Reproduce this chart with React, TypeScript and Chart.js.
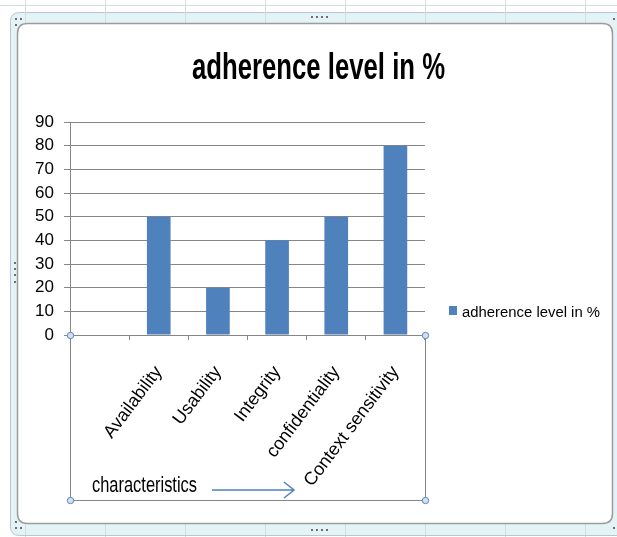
import React, { useEffect, useRef } from "react";
import { Chart, registerables } from "chart.js";

Chart.register(...registerables);

const chartTitle = "adherence level in %";
const seriesName = "adherence level in %";
const categories = ["", "Availability", "Usability", "Integrity", "confidentiality", "Context sensitivity"];
const values = [null, 50, 20, 40, 50, 80];
const yMin = 0;
const yMax = 90;
const yStep = 10;
const axisTitle = "characteristics";

const BAR = "#4F81BD";
const GRID = "#868686";
const NARROW = "'Liberation Sans Narrow', 'Liberation Sans', Arial, sans-serif";

function fitText(
  ctx: CanvasRenderingContext2D,
  text: string,
  x: number,
  baseline: number,
  width: number,
  ascent: number,
  font: string,
  color: string
) {
  ctx.save();
  ctx.font = font;
  const m = ctx.measureText(text);
  const sx = width / m.width;
  const sy = ascent / (m.actualBoundingBoxAscent || 1);
  ctx.translate(x, baseline);
  ctx.scale(sx, sy);
  ctx.fillStyle = color;
  ctx.textAlign = "left";
  ctx.textBaseline = "alphabetic";
  ctx.fillText(text, 0, 0);
  ctx.restore();
}

function roundRect(ctx: CanvasRenderingContext2D, x: number, y: number, w: number, h: number, r: number) {
  ctx.beginPath();
  ctx.moveTo(x + r, y);
  ctx.lineTo(x + w - r, y);
  ctx.quadraticCurveTo(x + w, y, x + w, y + r);
  ctx.lineTo(x + w, y + h - r);
  ctx.quadraticCurveTo(x + w, y + h, x + w - r, y + h);
  ctx.lineTo(x + r, y + h);
  ctx.quadraticCurveTo(x, y + h, x, y + h - r);
  ctx.lineTo(x, y + r);
  ctx.quadraticCurveTo(x, y, x + r, y);
  ctx.closePath();
}

function dots(ctx: CanvasRenderingContext2D, pts: number[][]) {
  ctx.fillStyle = "#6d6d6d";
  for (const [x, y] of pts) ctx.fillRect(x - 1, y - 1, 2, 2);
}

const decor = {
  id: "decor",
  beforeDraw(chart: any) {
    const ctx: CanvasRenderingContext2D = chart.ctx;
    const W = chart.width;
    const H = chart.height;
    ctx.save();
    ctx.fillStyle = "#ffffff";
    ctx.fillRect(0, 0, W, H);
    // spreadsheet grid
    ctx.strokeStyle = "#d4dbe8";
    ctx.lineWidth = 1;
    ctx.beginPath();
    ctx.moveTo(0, 5.5);
    ctx.lineTo(W, 5.5);
    for (let x = 25.5; x < W; x += 80) {
      ctx.moveTo(x, 0);
      ctx.lineTo(x, H);
    }
    ctx.stroke();
    // outer frame band
    roundRect(ctx, 10.5, 12.5, 640, 523, 9);
    ctx.fillStyle = "#e4f3f5";
    ctx.fill();
    ctx.strokeStyle = "#b7c6d6";
    ctx.stroke();
    ctx.strokeStyle = "#cfdde6";
    ctx.beginPath();
    for (let x = 25.5; x < W; x += 80) {
      ctx.moveTo(x, 12);
      ctx.lineTo(x, 23);
      ctx.moveTo(x, 524);
      ctx.lineTo(x, 535);
    }
    ctx.stroke();
    // inner white chart area
    roundRect(ctx, 17.5, 23.5, 595, 500, 10);
    ctx.fillStyle = "#ffffff";
    ctx.fill();
    ctx.strokeStyle = "#9c9c9c";
    ctx.lineWidth = 1.5;
    ctx.stroke();
    // handles
    dots(ctx, [
      [312, 17], [317, 17], [322, 17], [327, 17],
      [312, 530], [317, 530], [322, 530], [327, 530],
      [15, 263], [15, 269], [15, 275], [15, 282],
      [16, 19], [21, 19], [16, 25],
      [16, 522], [16, 528], [21, 528],
      [614, 19], [614, 528],
    ]);
    ctx.restore();
  },
  afterDraw(chart: any) {
    const ctx: CanvasRenderingContext2D = chart.ctx;
    const area = chart.chartArea;
    ctx.save();
    // title
    fitText(ctx, chartTitle, 192, 79, 253, 26, `bold 28px ${NARROW}`, "#000000");
    // legend
    ctx.fillStyle = BAR;
    ctx.fillRect(449, 306, 8, 9);
    fitText(ctx, seriesName, 462, 317, 138, 11, `14px ${NARROW}`, "#000000");
    // text box below axis
    const left = area.left;
    const right = area.right;
    const top = area.bottom;
    const bottom = 500;
    ctx.strokeStyle = GRID;
    ctx.lineWidth = 1;
    ctx.beginPath();
    ctx.moveTo(left + 0.5, top);
    ctx.lineTo(left + 0.5, bottom + 0.5);
    ctx.lineTo(right + 0.5, bottom + 0.5);
    ctx.lineTo(right + 0.5, top);
    ctx.stroke();
    fitText(ctx, axisTitle, 92, 492, 105, 17, `16px ${NARROW}`, "#000000");
    // arrow
    ctx.strokeStyle = BAR;
    ctx.lineWidth = 1.5;
    ctx.beginPath();
    ctx.moveTo(212, 490);
    ctx.lineTo(294, 490);
    ctx.moveTo(284, 482);
    ctx.lineTo(294, 490);
    ctx.lineTo(284, 498);
    ctx.stroke();
    // corner handles
    for (const [x, y] of [[left, top], [right, top], [left, bottom], [right, bottom]]) {
      ctx.beginPath();
      ctx.arc(x + 0.5, y + 0.5, 3.2, 0, Math.PI * 2);
      ctx.fillStyle = "#cfe0f3";
      ctx.fill();
      ctx.strokeStyle = "#5f87b8";
      ctx.lineWidth = 1;
      ctx.stroke();
    }
    ctx.restore();
  },
};

export default function App() {
  const ref = useRef<HTMLCanvasElement | null>(null);
  useEffect(() => {
    if (!ref.current) return;
    const chart = new Chart(ref.current, {
      type: "bar",
      data: {
        labels: categories,
        datasets: [
          {
            label: seriesName,
            data: values,
            backgroundColor: BAR,
            barPercentage: 0.4,
            categoryPercentage: 1,
          },
        ],
      },
      plugins: [decor],
      options: {
        responsive: false,
        animation: false,
        layout: { padding: { left: 0, top: 122, right: 192, bottom: 0 } },
        plugins: {
          legend: { display: false },
          title: { display: false },
          tooltip: { enabled: false },
        },
        scales: {
          x: {
            offset: true,
            afterFit: (s: any) => {
              s.height = 537 - 335;
            },
            ticks: {
              minRotation: 53,
              maxRotation: 53,
              autoSkip: false,
              padding: 22,
              color: "#000000",
              font: { family: NARROW, size: 18 },
            },
            grid: {
              offset: true,
              drawOnChartArea: false,
              drawTicks: true,
              tickLength: 5,
              color: GRID,
            },
            border: { color: GRID },
          },
          y: {
            min: yMin,
            max: yMax,
            afterFit: (s: any) => {
              s.width = 70;
            },
            ticks: {
              stepSize: yStep,
              padding: 10,
              color: "#000000",
              font: { family: NARROW, size: 17 },
            },
            grid: { color: GRID, tickLength: 6 },
            border: { color: GRID },
          },
        },
      },
    });
    return () => chart.destroy();
  }, []);
  return (
    <div style={{ position: "fixed", left: 0, top: 0, width: 617, height: 537 }}>
      <canvas ref={ref} width={617} height={537} style={{ width: 617, height: 537, display: "block" }} />
    </div>
  );
}
